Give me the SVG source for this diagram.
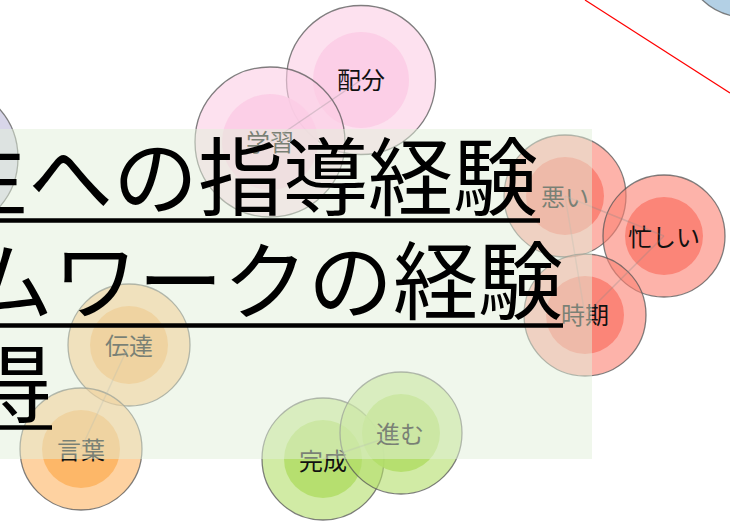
<svg xmlns="http://www.w3.org/2000/svg" width="730" height="521" viewBox="0 0 730 521">
<style>
.o{stroke:#555;stroke-opacity:0.75;stroke-width:1.3;fill-opacity:0.6}
.i{stroke:none;fill-opacity:0.9}
.lab{font-family:"Noto Sans CJK JP","Noto Sans",sans-serif;font-size:24px;fill:#111;text-anchor:middle}
.big{font-family:"Noto Sans CJK JP","Noto Sans",sans-serif;font-size:85px;fill:#000}
.e{stroke:#888;stroke-opacity:0.3;stroke-width:1.5;fill:none}
.lav{fill:#BEBADA}.pink{fill:#FCCDE5}.blue{fill:#80B1D3}.red{fill:#FB8072}.ora{fill:#FDB462}.grn{fill:#B3DE69}
</style>
<rect width="730" height="521" fill="#fff"/>
<g id="nodes">
<g id="n-lav"><circle class="o lav" cx="-56" cy="158" r="74"/><circle class="i lav" cx="-56" cy="158" r="48"/></g>
<g id="n-blue"><circle class="o blue" cx="745" cy="-45" r="62"/><circle class="i blue" cx="745" cy="-45" r="40"/></g>
<g id="n-haibun"><circle class="o pink" cx="361" cy="80" r="74.5"/><circle class="i pink" cx="361" cy="80" r="48"/><text class="lab" x="361" y="88.5">配分</text></g>
<g id="n-gakushu"><circle class="o pink" cx="270" cy="142" r="75"/><circle class="i pink" cx="270" cy="142" r="48"/><text class="lab" x="270" y="151">学習</text></g>
<g id="n-warui"><circle class="o red" cx="565" cy="196" r="61"/><circle class="i red" cx="565" cy="196" r="39"/><text class="lab" x="565" y="205.5">悪い</text></g>
<g id="n-isogashii"><circle class="o red" cx="664" cy="236" r="61"/><circle class="i red" cx="664" cy="236" r="39"/><text class="lab" x="664" y="245.5">忙しい</text></g>
<g id="n-jiki"><circle class="o red" cx="585" cy="315" r="61"/><circle class="i red" cx="585" cy="315" r="39"/><text class="lab" x="585" y="324">時期</text></g>
<g id="n-dentatsu"><circle class="o ora" cx="129" cy="345" r="61"/><circle class="i ora" cx="129" cy="345" r="39"/><text class="lab" x="129" y="354.5">伝達</text></g>
<g id="n-kotoba"><circle class="o ora" cx="81" cy="449" r="61"/><circle class="i ora" cx="81" cy="449" r="39"/><text class="lab" x="81" y="459">言葉</text></g>
<g id="n-kansei"><circle class="o grn" cx="323" cy="459" r="61"/><circle class="i grn" cx="323" cy="459" r="39"/><text class="lab" x="323" y="469.5">完成</text></g>
<g id="n-susumu"><circle class="o grn" cx="401" cy="433" r="61"/><circle class="i grn" cx="401" cy="433" r="39"/><text class="lab" x="400" y="443">進む</text></g>
</g>
<g id="connectors">
<line class="e" x1="270" y1="142" x2="361" y2="80"/>
<line class="e" x1="565" y1="196" x2="664" y2="236"/>
<line class="e" x1="565" y1="196" x2="585" y2="315"/>
<line class="e" x1="664" y1="236" x2="585" y2="315"/>
<line class="e" x1="129" y1="345" x2="81" y2="449"/>
<line class="e" x1="323" y1="459" x2="401" y2="433"/>
<line x1="585" y1="0" x2="730" y2="93" stroke="#f00" stroke-width="1.2"/>
</g>
<g id="overlay">
<rect x="0" y="129" width="592" height="330" fill="#e1efd9" fill-opacity="0.5"/>
<text class="big" x="-57" y="209">生への指導経験</text>
<text class="big" x="-32" y="312.5">ムワークの経験</text>
<text class="big" x="-33" y="416">得</text>
<g stroke="#000" stroke-width="4.5">
<line x1="0" y1="220.5" x2="540" y2="220.5"/>
<line x1="0" y1="325.5" x2="563" y2="325.5"/>
<line x1="0" y1="427.5" x2="52" y2="427.5"/>
</g>
</g>
</svg>
